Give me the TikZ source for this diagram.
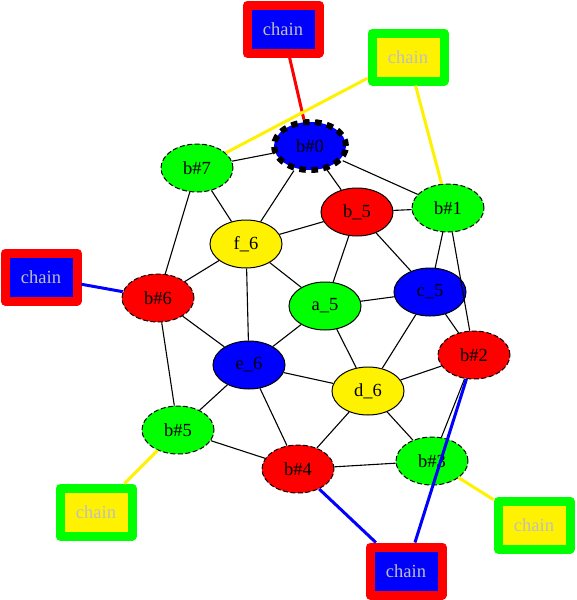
\documentclass[tikz,border=0pt]{standalone}
\usepackage{fontspec}
\setmainfont{Liberation Serif}
\usetikzlibrary{shapes.geometric}
\tikzset{every picture/.style={line width=1pt}}
\tikzset{
  vnode/.style={ellipse, draw=black, line width=1pt, minimum width=72pt,
    minimum height=48pt, inner sep=0pt, font=\fontsize{18.5}{20}\selectfont},
  hnode/.style={vnode, dash pattern=on 5pt off 2.5pt},
  chainbox/.style={rectangle, line width=9pt, line join=round,
    minimum width=72pt, minimum height=48pt, inner sep=0pt,
    text=lightgray, font=\fontsize{18.5}{20}\selectfont},
  link/.style={black, line width=1.1pt},
  clink/.style={line width=3pt}
}

\begin{document}
\begin{tikzpicture}[x=1pt,y=-1pt]
    \useasboundingbox (0,0) rectangle (576,600);
    % 节点
    \node[vnode, fill=blue, line width=6pt, dash pattern=on 6.5pt off 5.5pt] (h0) at (310,146) {b\#0};
    \node[hnode, fill=green] (h7) at (197,168) {b\#7};
    \node[hnode, fill=green] (h1) at (448,208) {b\#1};
    \node[vnode, fill=red] (b5) at (357,212) {b\_5};
    \node[vnode, fill=yellow] (f6) at (246,244) {f\_6};
    \node[vnode, fill=blue] (c5) at (430,292) {c\_5};
    \node[vnode, fill=green] (a5) at (325,306) {a\_5};
    \node[hnode, fill=red] (h6) at (158,298) {b\#6};
    \node[hnode, fill=red] (h2) at (474,355) {b\#2};
    \node[vnode, fill=blue] (e6) at (249,365) {e\_6};
    \node[vnode, fill=yellow] (d6) at (368,391) {d\_6};
    \node[hnode, fill=green] (h5) at (178,430) {b\#5};
    \node[hnode, fill=green] (h3) at (432,461) {b\#3};
    \node[hnode, fill=red] (h4) at (298,469) {b\#4};
    % chain
    \node[chainbox, draw=red, fill=blue] (chain0) at (283,29) {chain};
    \node[chainbox, draw=green, fill=yellow] (chain71) at (408,57) {chain};
    \node[chainbox, draw=red, fill=blue] (chain6) at (41,277) {chain};
    \node[chainbox, draw=green, fill=yellow] (chain5) at (96,512) {chain};
    \node[chainbox, draw=red, fill=blue] (chain42) at (406,571) {chain};
    \node[chainbox, draw=green, fill=yellow] (chain3) at (534,525) {chain};
    % 边
    \draw[link] (h0) -- (h7);
    \draw[link] (h0) -- (f6);
    \draw[link] (h0) -- (b5);
    \draw[link] (h0) -- (h1);
    \draw[link] (h7) -- (f6);
    \draw[link] (h7) -- (h6);
    \draw[link] (b5) -- (h1);
    \draw[link] (b5) -- (f6);
    \draw[link] (b5) -- (a5);
    \draw[link] (b5) -- (c5);
    \draw[link] (h1) -- (c5);
    \draw[link] (h1) -- (h2);
    \draw[link] (f6) -- (h6);
    \draw[link] (f6) -- (a5);
    \draw[link] (f6) -- (e6);
    \draw[link] (c5) -- (a5);
    \draw[link] (c5) -- (h2);
    \draw[link] (c5) -- (d6);
    \draw[link] (a5) -- (e6);
    \draw[link] (a5) -- (d6);
    \draw[link] (h6) -- (e6);
    \draw[link] (h6) -- (h5);
    \draw[link] (e6) -- (d6);
    \draw[link] (e6) -- (h5);
    \draw[link] (e6) -- (h4);
    \draw[link] (d6) -- (h2);
    \draw[link] (d6) -- (h4);
    \draw[link] (d6) -- (h3);
    \draw[link] (h2) -- (h3);
    \draw[link] (h5) -- (h4);
    \draw[link] (h4) -- (h3);
    % chain 边
    \draw[clink, red] (chain0) -- (h0);
    \draw[clink, yellow] (chain71) -- (h7);
    \draw[clink, yellow] (chain71) -- (h1);
    \draw[clink, blue] (chain6) -- (h6);
    \draw[clink, yellow] (chain5) -- (h5);
    \draw[clink, blue] (chain42) -- (h4);
    \draw[clink, blue] (chain42) -- (h2);
    \draw[clink, yellow] (chain3) -- (h3);
\end{tikzpicture}
\end{document}
